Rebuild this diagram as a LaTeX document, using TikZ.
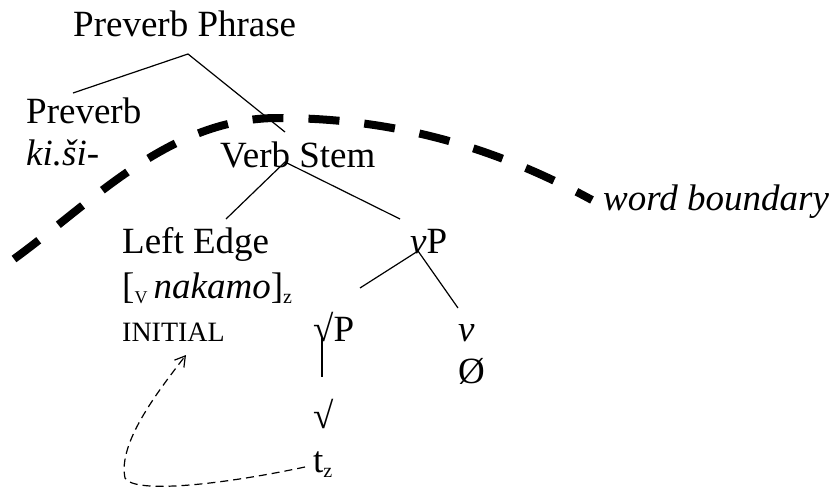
\documentclass[tikz,border=0pt]{standalone}
\usepackage{fontspec}
\setmainfont{Liberation Serif}[ItalicFont={Liberation Serif Italic},BoldFont={Liberation Serif Bold}]
\usetikzlibrary{arrows.meta}
\newcommand{\subsz}[2]{\raisebox{-5pt}{\fontsize{#1}{#1}\selectfont #2}}
\begin{document}
\begin{tikzpicture}[x=1pt,y=-1pt,
  lab/.style={anchor=base west,inner sep=0pt,font=\fontsize{37}{40}\selectfont},
  smallcap/.style={anchor=base west,inner sep=0pt,font=\fontsize{28}{30}\selectfont},
  branch/.style={line width=1.2pt},
  boundary/.style={line width=8pt,dash pattern=on 31pt off 25pt},
  movearrow/.style={line width=1.2pt,dash pattern=on 8pt off 5pt,-{Straight Barb[length=10pt,width=12pt,line width=1.2pt]}}]
\useasboundingbox (0,0) rectangle (839,493);
% texts
\node[lab] (pp) at (73,36) {Preverb Phrase};
\node[lab] (pv) at (26,123) {Preverb};
\node[lab] (ki) at (26,165) {\itshape ki.ši-};
\node[lab] (vs) at (220,167) {Verb Stem};
\node[lab] (le) at (122,253) {Left Edge};
\node[lab] (vp) at (410,253) {\textit{v}P};
\node[lab] (nak) at (122,298) {{[}\subsz{18}{V}\,\textit{nakamo}{]}\subsz{20}{z}};
\node[smallcap] (ini) at (122,341) {INITIAL};
\node[lab] (rp) at (313,341) {√P};
\node[lab] (vv) at (458,341) {\textit{v}};
\node[lab] (null) at (458,383) {Ø};
\node[lab] (rt) at (313,428) {√};
\node[lab] (tz) at (313,472) {t\subsz{20}{z}};
\node[lab] (wb) at (603,210) {\itshape word boundary};
% branch points
\coordinate (ppb) at (188,54);
\coordinate (pvt) at (73,93);
\coordinate (vst) at (285,132);
\coordinate (vsb) at (285,162);
\coordinate (let) at (226,219);
\coordinate (vpt) at (400,219);
\coordinate (vpb) at (418,251);
\coordinate (rpt) at (360,288);
\coordinate (vvt) at (458,308);
\coordinate (rpb) at (322,338);
\coordinate (rtt) at (322,377);
\draw[branch] (pvt) -- (ppb) -- (vst);
\draw[branch] (let) -- (vsb) -- (vpt);
\draw[branch] (rpt) -- (vpb) -- (vvt);
\draw[branch] (rpb) -- (rtt);
% word boundary
\coordinate (wbs) at (14,259);
\coordinate (wbm) at (278,118);
\coordinate (wbe) at (592,200);
\draw[boundary] (wbs) .. controls (95,200) and (170,118) .. (wbm)
  .. controls (400,118) and (500,150) .. (wbe);
% movement arrow
\coordinate (ms) at (305,467);
\coordinate (mc) at (125,478);
\coordinate (me) at (186,355);
\draw[movearrow] (ms) .. controls (220,485) and (134,494) .. (mc)
  .. controls (118,444) and (155,395) .. (me);
\end{tikzpicture}
\end{document}
